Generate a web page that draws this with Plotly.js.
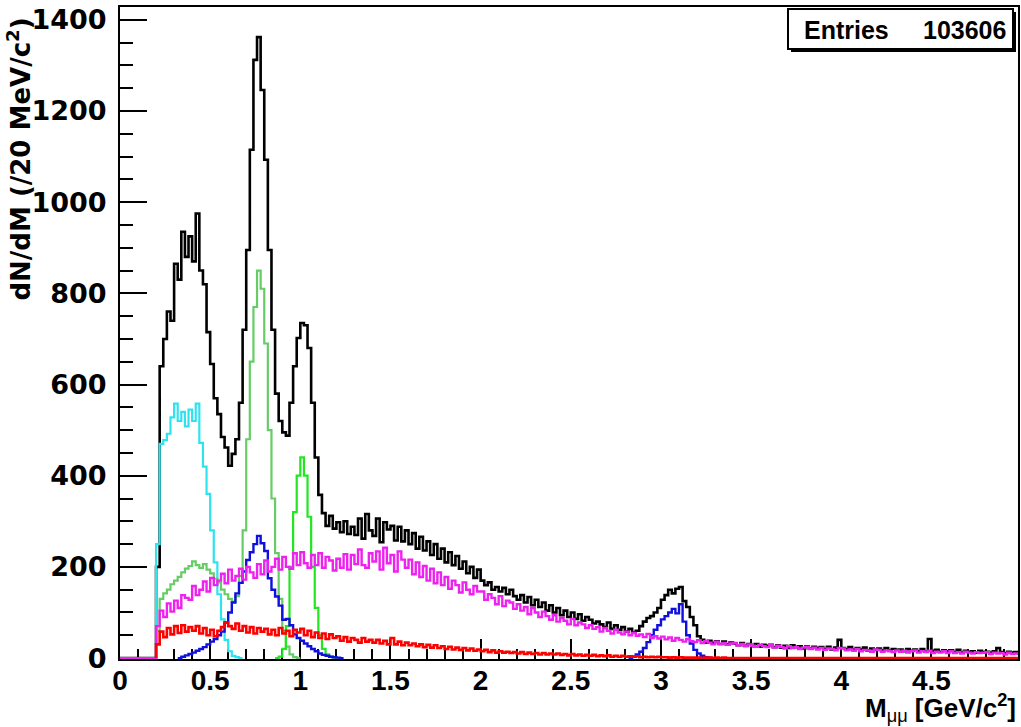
<!DOCTYPE html>
<html><head><meta charset="utf-8">
<script src="https://cdn.plot.ly/plotly-3.0.1.min.js"></script>
<style>html,body{margin:0;padding:0;background:#fff;} #chart{width:1021px;height:727px;}</style>
</head><body><div id="chart"></div>
<script>
// ---------------- data ----------------
const BIN_WIDTH = 0.02; // 20 MeV/c^2 bins
const xTickValues = [0, 0.5, 1, 1.5, 2, 2.5, 3, 3.5, 4, 4.5];
const xTickLabels = ['0', '0.5', '1', '1.5', '2', '2.5', '3', '3.5', '4', '4.5'];
const yTickValues = [0, 200, 400, 600, 800, 1000, 1200, 1400];
const yTickLabels = ['0', '200', '400', '600', '800', '1000', '1200', '1400'];
const entriesLabel = 'Entries';
const entriesValue = '103606';

// total (black), first bin edge 0.00
const totalStart = 0.00;
const total = [
  0,0,0,0,0,0,0,0,0,0,
  200,640,700,760,740,865,830,935,880,925,
  870,975,850,820,715,645,570,535,485,462,
  422,448,480,560,720,895,1115,1312,1362,1246,
  1093,895,720,580,520,495,488,560,640,702,
  735,730,680,560,440,358,318,290,312,284,
  298,276,300,272,288,270,306,262,316,280,
  268,306,254,298,282,290,258,288,256,280,
  250,274,240,266,236,256,226,250,218,240,
  210,232,204,224,196,212,186,200,176,194,
  170,160,166,150,156,146,154,140,150,136,
  128,138,122,134,116,128,112,122,104,116,
  100,110,94,104,90,100,86,96,82,90,
  84,76,80,74,68,78,64,72,62,68,
  58,64,56,60,70,80,88,92,100,110,
  128,138,150,142,152,156,125,112,90,72,
  48,40,34,38,33,37,31,36,30,34,
  32,28,33,27,31,26,31,25,29,27,
  29,24,28,23,27,22,28,24,26,21,
  26,21,25,22,24,20,25,19,23,40,
  22,20,24,18,22,19,23,17,21,18,
  21,17,22,16,20,18,19,15,20,16,
  19,15,20,14,42,16,18,14,17,15,
  17,13,18,12,16,14,15,12,16,13,
  14,12,15,22,13,11,14,12,13,11
];

// eta Dalitz (cyan)
const etaStart = 0.20;
const eta = [
  250,470,478,492,528,558,520,540,508,545,
  520,558,472,420,360,280,210,140,85,40,
  15,5,2,0
];

// omega (medium green)
const omegaStart = 0.20;
const omega = [
  60,130,142,150,162,170,178,188,196,202,
  212,204,198,206,194,186,174,166,150,140,
  130,124,136,180,280,480,650,770,850,810,
  690,500,350,230,130,60,25,8,2,0
];

// phi (bright green)
const phiStart = 0.86;
const phi = [0,3,20,70,200,320,400,440,400,310,200,110,50,20,8,3,1,0];

// rho (blue)
const rhoStart = 0.32;
const rho = [
  0,3,6,9,12,16,20,24,30,36,
  42,50,58,78,100,122,142,165,190,215,
  232,250,268,252,235,175,150,135,115,84,
  86,72,52,44,38,32,26,20,15,10,
  7,5,3,2,1,0
];

// J/psi (blue)
const jpsiStart = 2.82;
const jpsi = [0,3,8,14,22,35,50,62,72,85,92,100,108,98,118,80,50,32,18,10,5,2,1,0];

// open charm (magenta), first bin edge 0.00
const charmStart = 0.00;
const charm = [
  0,0,0,0,0,0,0,0,0,0,
  70,104,90,120,102,126,110,138,132,128,
  158,138,150,168,146,176,160,170,185,164,
  194,170,180,196,172,200,188,176,206,184,
  214,190,200,218,194,222,200,196,230,204,
  232,208,198,226,204,230,198,222,214,192,
  218,198,228,194,226,206,238,204,198,230,
  212,234,194,242,208,226,190,234,216,198,
  216,184,210,178,202,170,196,164,188,160,
  178,152,170,160,144,166,150,140,158,146,
  146,128,140,132,118,136,114,126,122,108,
  118,104,112,96,110,100,90,102,92,84,
  94,80,88,82,74,86,72,78,74,66,
  72,64,68,58,66,60,54,62,56,52,
  58,50,55,49,52,46,53,44,48,43,
  47,41,45,38,44,40,36,42,37,35,
  39,33,37,34,30,36,31,33,29,32,
  33,28,31,26,30,27,25,29,26,24,
  28,23,27,24,21,26,22,24,20,23,
  25,20,23,19,22,18,21,20,17,22,
  21,17,19,16,20,15,18,17,14,19,
  18,14,17,15,13,17,14,16,12,15,
  17,12,15,13,16,11,14,12,15,11,
  15,11,13,10,14,12,10,13,11,12,
  13,9,12,10,11,8,12,9,10,9
];

// red component
const redStart = 0.20;
const redComp = [
  30,58,46,66,52,70,55,72,58,68,
  60,70,54,66,50,62,48,60,68,78,
  70,64,76,60,70,56,68,54,66,58,
  64,52,62,50,66,54,60,48,62,56,
  64,50,60,46,56,44,54,42,52,44,
  48,38,46,36,44,40,34,44,36,40,
  34,40,32,38,30,44,30,36,28,34,
  28,32,26,30,24,29,23,28,22,26,
  20,25,19,23,18,22,17,21,16,19,
  15,18,13,17,12,15,12,14,11,13,
  10,13,9,12,9,11,8,11,8,10,
  8,10,7,9,6,9,6,8,5,7,
  5,7,4,6,4,6,3,5,3,5,
  3,4,3,4,2,3,2,3,2,3,
  2,2,1,2,1,2,1,1,1,1,
  1,0,1,1,0,1,0,1,0,0,
  0,0,0,0,0,0,0,0,0,0,
  0,0,0,0,0,0,0,0,0,0,
  0,0,0,0,0,0,0,0,0,0,
  0,0,0,0,0,0,0,0,0,0,
  0,0,0,0,0,0,0,0,0,0,
  0,0,0,0,0,0,0,0,0,0,
  0,0,0,0,0,0,0,0,0,0,
  0,0,0,0,0,0,0,0,0,0
];

// ---------------- drawing ----------------
function histSteps(start, vals) {
  const x = [start], y = [0];
  vals.forEach((v, i) => { x.push(+(start + i * BIN_WIDTH).toFixed(4)); y.push(v); });
  const end = +(start + vals.length * BIN_WIDTH).toFixed(4);
  x.push(end); y.push(vals[vals.length - 1]);
  x.push(end); y.push(0);
  return { x, y };
}
function hTrace(start, vals, color, width) {
  const s = histSteps(start, vals);
  return { type: 'scatter', mode: 'lines', x: s.x, y: s.y,
    line: { shape: 'hv', color: color, width: width }, hoverinfo: 'skip', showlegend: false };
}

const traces = [
  hTrace(totalStart, total, '#000000', 2.6),
  hTrace(etaStart, eta, '#2EE3EE', 2.2),
  hTrace(omegaStart, omega, '#66CC66', 2.2),
  hTrace(phiStart, phi, '#22E622', 2.2),
  hTrace(rhoStart, rho, '#1010DD', 2.4),
  hTrace(jpsiStart, jpsi, '#1010DD', 2.4),
  hTrace(charmStart, charm, '#EE22EE', 2.4),
  hTrace(redStart, redComp, '#FF0000', 2.6)
];

const P = { l: 120, r: 1018, t: 7, b: 659, W: 1021, H: 727 };
const px = v => (v - P.l) / (P.r - P.l);
const py = v => (P.b - v) / (P.b - P.t);

const layout = {
  width: P.W, height: P.H,
  margin: { l: P.l, r: P.W - P.r, t: P.t, b: P.H - P.b, pad: 0 },
  paper_bgcolor: '#ffffff', plot_bgcolor: '#ffffff',
  showlegend: false,
  xaxis: {
    range: [0, 4.98], tickmode: 'array', tickvals: xTickValues, ticktext: xTickLabels,
    ticks: 'inside', ticklen: 20, tickwidth: 2, tickcolor: '#000',
    minor: { dtick: 0.1, ticks: 'inside', ticklen: 10, tickwidth: 2, tickcolor: '#000', showgrid: false },
    showline: true, linewidth: 2, linecolor: '#000', mirror: true,
    showgrid: false, zeroline: false, layer: 'below traces',
    tickfont: { family: 'Liberation Sans, Arial, sans-serif', size: 28, weight: 'bold', color: '#000' },
    ticklabelstandoff: -5
  },
  yaxis: {
    range: [-2, 1428], tickmode: 'array', tickvals: yTickValues, ticktext: yTickLabels,
    ticks: 'inside', ticklen: 27, tickwidth: 2, tickcolor: '#000',
    minor: { dtick: 50, ticks: 'inside', ticklen: 13, tickwidth: 2, tickcolor: '#000', showgrid: false },
    showline: true, linewidth: 2, linecolor: '#000', mirror: true,
    showgrid: false, zeroline: false, layer: 'below traces',
    tickfont: { family: 'DejaVu Sans, sans-serif', size: 27, weight: 'bold', color: '#000' },
    ticklabelstandoff: 6
  },
  shapes: [
    { type: 'rect', xref: 'paper', yref: 'paper', x0: px(791), x1: px(1016), y0: py(12), y1: py(52),
      fillcolor: '#000', line: { width: 0 } },
    { type: 'rect', xref: 'paper', yref: 'paper', x0: px(788), x1: px(1013), y0: py(9), y1: py(49),
      fillcolor: '#fff', line: { color: '#000', width: 2 } }
  ],
  annotations: [
    { xref: 'paper', yref: 'paper', x: px(802), y: py(30), xanchor: 'left', yanchor: 'middle',
      text: entriesLabel, showarrow: false,
      font: { family: 'Liberation Sans, Arial, sans-serif', size: 25, weight: 'bold', color: '#000' } },
    { xref: 'paper', yref: 'paper', x: px(1008), y: py(30), xanchor: 'right', yanchor: 'middle',
      text: entriesValue, showarrow: false,
      font: { family: 'Liberation Sans, Arial, sans-serif', size: 25, weight: 'bold', color: '#000' } },
    { xref: 'paper', yref: 'paper', x: px(19), y: py(16), xanchor: 'center', yanchor: 'top',
      textangle: -90, text: 'dN/dM (/20 MeV/c<sup>2</sup>)', showarrow: false,
      font: { family: 'DejaVu Sans, sans-serif', size: 26, weight: 'bold', color: '#000' } },
    { xref: 'paper', yref: 'paper', x: px(1018), y: py(708), xanchor: 'right', yanchor: 'middle',
      text: 'M<sub><span style="font-weight:normal">μμ</span></sub> [GeV/c<sup>2</sup>]', showarrow: false,
      font: { family: 'Liberation Sans, Arial, sans-serif', size: 26, weight: 'bold', color: '#000' } }
  ]
};

Plotly.newPlot('chart', traces, layout, { staticPlot: true, displayModeBar: false });
</script>
</body></html>
